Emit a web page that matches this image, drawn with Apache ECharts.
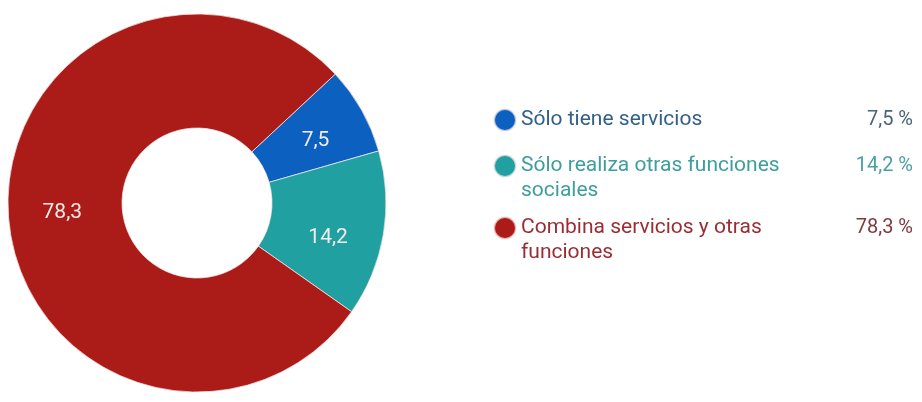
<!DOCTYPE html>
<html>
<head>
<meta charset="utf-8">
<script src="https://cdn.jsdelivr.net/npm/echarts@6/dist/echarts.min.js"></script>
<style>
html,body{margin:0;padding:0;background:#fff;}
#c{width:922px;height:402px;}
</style>
</head>
<body>
<div id="c"></div>
<script>
const categories = ['Sólo tiene servicios', 'Sólo realiza otras funciones sociales', 'Combina servicios y otras funciones'];
const values = [7.5, 14.2, 78.3];
const sliceColors = ['#0c60bf', '#20a0a0', '#ab1b18'];
const legendTextColors = ['#32608a', '#3d9e9d', '#9a2d33'];
const valueTextColors = ['#4b6378', '#4aa19f', '#7d3a42'];

function fmt(v) { return v.toFixed(1).replace('.', ','); }
function wrap(s, max) {
  const words = s.split(' ');
  const lines = [];
  let cur = '';
  words.forEach(w => {
    if (cur && (cur + ' ' + w).length > max) { lines.push(cur); cur = w; }
    else cur = cur ? cur + ' ' + w : w;
  });
  if (cur) lines.push(cur);
  return lines;
}

const iconCenters = [119, 165, 227];
const lineH = 25;
const legends = categories.map((name, i) => {
  const lines = wrap(name, 28);
  const pad = (lines.length - 1) * lineH;
  return {
    data: [name],
    orient: 'vertical',
    left: 493,
    top: iconCenters[i] - 11,
    padding: 0,
    icon: 'circle',
    itemWidth: 22,
    itemHeight: 22,
    selectedMode: false,
    formatter: function (n) {
      const ls = wrap(n, 28);
      let s = '{n|' + ls[0] + '}{v|' + fmt(values[i]) + ' %}';
      for (let k = 1; k < ls.length; k++) s += '\n{n|' + ls[k] + '}';
      return s;
    },
    textStyle: {
      padding: [pad, 0, 0, 0],
      rich: {
        n: { width: 322, fontFamily: 'Roboto', fontSize: 21, lineHeight: lineH, color: legendTextColors[i] },
        v: { width: 70, align: 'right', fontFamily: 'Roboto', fontSize: 20, lineHeight: lineH, color: valueTextColors[i] }
      }
    }
  };
});

// the teal label sits a little lower in the reference than the slice midpoint
const labelShift = { 1: [-2, 12], 0: [1, 4] };

const chart = echarts.init(document.getElementById('c'), null, { renderer: 'canvas' });
chart.setOption({
  animation: false,
  backgroundColor: '#ffffff',
  legend: legends,
  series: [{
    type: 'pie',
    center: [197, 203],
    radius: [75, 189],
    startAngle: 43,
    clockwise: true,
    avoidLabelOverlap: false,
    data: categories.map((n, i) => ({
      name: n, value: values[i],
      itemStyle: { color: sliceColors[i] },
      label: labelShift[i] ? { offset: labelShift[i] } : undefined
    })),
    itemStyle: { borderColor: 'rgba(255,235,235,0.7)', borderWidth: 1 },
    label: {
      show: true,
      position: 'inside',
      formatter: p => fmt(p.value),
      fontFamily: 'Roboto',
      fontSize: 21,
      color: '#f3ecec'
    },
    labelLine: { show: false },
    emphasis: { disabled: true }
  }]
});
</script>
</body>
</html>
